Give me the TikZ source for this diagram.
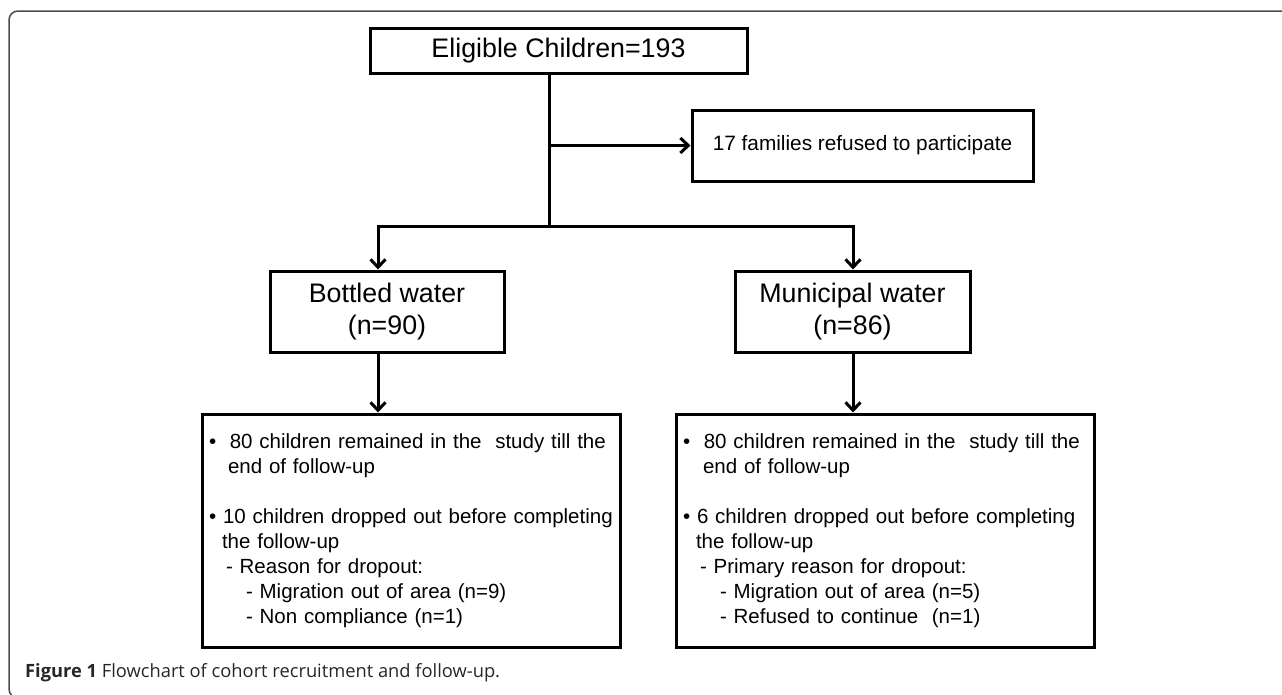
\documentclass[tikz,border=0pt]{standalone}
\usepackage{fontspec}
\setmainfont{Liberation Sans}
\newfontfamily\capfont{Open Sans}
\usepackage{tikz}
\usetikzlibrary{arrows.meta, positioning}

\begin{document}
\begin{tikzpicture}[
    x=1pt, y=-1pt,
    box/.style={rectangle, draw, line width=3pt, inner sep=0pt, align=center, font=\fontsize{26.8}{32}\selectfont},
    smallbox/.style={box, font=\fontsize{20.8}{25}\selectfont},
    listbox/.style={rectangle, draw, line width=3pt, inner xsep=7pt, inner ysep=0pt, text width=404pt, minimum height=233pt, align=left, font=\fontsize{20.5}{25}\selectfont},
    link/.style={line width=3pt},
    frame/.style={draw=black!70, line width=1.5pt, rounded corners=9pt},
    >={Straight Barb[length=8pt, width=15pt, line width=3pt]}
]
\useasboundingbox (0,0) rectangle (1282,694);

% Frame and caption
\draw[frame] (1282,11) -- (9,11) -- (9,698) -- (24,698);
\node[anchor=base west, inner sep=0pt, font=\capfont\fontsize{18.3}{22}\selectfont, text=black!85] (caption) at (25,677)
    {\textbf{Figure 1} Flowchart of cohort recruitment and follow-up.};

% Nodes
\node[box, minimum width=377pt, minimum height=45pt] (eligible) at (558.5,50.5) {Eligible Children=193};
\node[smallbox, minimum width=341pt, minimum height=71pt] (refused) at (862.5,145.5) {17 families refused to participate};
\node[box, minimum width=234pt, minimum height=81pt] (bottled) at (387,311.5) {Bottled water\\(n=90)};
\node[box, minimum width=235pt, minimum height=81pt] (municipal) at (852.5,311.5) {Municipal water\\(n=86)};

\node[listbox] (bottledout) at (411,530.5) {%
\mbox{•\ \ 80 children remained in the\ \ study till the}\\
\hspace*{19pt}end of follow-up\\[25pt]
\mbox{• 10 children dropped out before completing}\\
\hspace*{13pt}the follow-up\\
\hspace*{17pt}- Reason for dropout:\\
\hspace*{37pt}- Migration out of area (n=9)\\
\hspace*{37pt}- Non compliance (n=1)};
\node[listbox] (municipalout) at (885,530.5) {%
\mbox{•\ \ 80 children remained in the\ \ study till the}\\
\hspace*{20pt}end of follow-up\\[25pt]
\mbox{• 6 children dropped out before completing}\\
\hspace*{13pt}the follow-up\\
\hspace*{17pt}- Primary reason for dropout:\\
\hspace*{37pt}- Migration out of area (n=5)\\
\hspace*{37pt}- Refused to continue\ \ (n=1)};

\coordinate (split) at (549,226);
\coordinate (lsplit) at (378,226);
\coordinate (rsplit) at (853,226);

% Connections
\draw[link] (split |- eligible.south) -- (split);
\draw[link, ->] (split |- refused.west) -- (refused.west);
\draw[link, ->] (split) -| (lsplit |- bottled.north);
\draw[link, ->] (split) -| (rsplit |- municipal.north);
\draw[link, ->] (lsplit |- bottled.south) -- (lsplit |- bottledout.north);
\draw[link, ->] (rsplit |- municipal.south) -- (rsplit |- municipalout.north);

\end{tikzpicture}
\end{document}
